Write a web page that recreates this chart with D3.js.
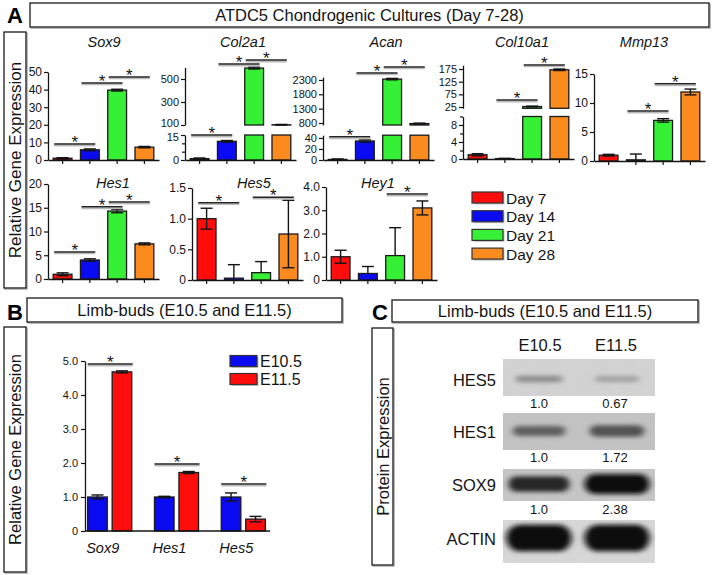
<!DOCTYPE html>
<html><head><meta charset="utf-8">
<script src="https://cdn.jsdelivr.net/npm/d3@7"></script>
<style>
body{margin:0;background:#fff;}
svg{display:block;font-family:"Liberation Sans",Arial,Helvetica,sans-serif;}
</style></head><body>
<svg id="fig" width="712" height="575"></svg>
<script>
// ---------------- DATA ----------------
const days = ["Day 7", "Day 14", "Day 21", "Day 28"];
const dayColors = ["#ff0d0d", "#0b0bf2", "#36f036", "#fb8a1f"];

const sox9Values = [1.0, 5.8, 39.7, 7.3];
const sox9Errors = [0.3, 0.5, 0.5, 0.4];
const sox9Ticks = [0, 10, 20, 30, 40, 50];
const sox9Sig = [[0, 1, 9.1], [1, 2, 43.8], [2, 3, 47.2]];

const col2a1Values = [0.8, 11.2, 595, 102];
const col2a1Errors = [0.4, 0.5, 8, 3];
const col2a1TicksLow = [0, 15];
const col2a1TicksHigh = [100, 300, 500];
const col2a1Sig = [[0, 1, 15], [1, 2, 630], [2, 3, 665]];

const acanValues = [1.0, 34.5, 2330, 780];
const acanErrors = [1.0, 2.0, 25, 15];
const acanTicksLow = [0, 20, 40];
const acanTicksHigh = [800, 1300, 1800, 2300];
const acanSig = [[0, 1, 42], [1, 2, 2545], [2, 3, 2755]];

const col10a1Values = [1.0, 0.1, 27, 172];
const col10a1Errors = [0.25, 0.05, 1.5, 3];
const col10a1TicksLow = [0, 4, 8];
const col10a1TicksHigh = [25, 75, 125, 175];
const col10a1Sig = [[1, 2, 52.5], [2, 3, 191]];

const mmp13Values = [1.0, 0.2, 7.0, 11.9];
const mmp13Errors = [0.15, 1.0, 0.3, 0.5];
const mmp13Ticks = [0, 5, 10, 15];
const mmp13Sig = [[1, 2, 8.6], [2, 3, 13.3]];

const hes1Values = [1.0, 4.0, 14.3, 7.4];
const hes1Errors = [0.3, 0.25, 0.35, 0.2];
const hes1Ticks = [0, 5, 10, 15, 20];
const hes1Sig = [[0, 1, 5.7], [1, 2, 15.2], [2, 3, 16.2]];

const hes5Values = [1.0, 0.03, 0.12, 0.75];
const hes5Errors = [0.17, 0.22, 0.18, 0.55];
const hes5Ticks = [0, 0.5, 1.0, 1.5];
const hes5Sig = [[0, 1, 1.26], [2, 3, 1.35]];

const hey1Values = [1.0, 0.28, 1.05, 3.1];
const hey1Errors = [0.28, 0.3, 1.2, 0.3];
const hey1Ticks = [0, 1, 2, 3, 4];
const hey1Sig = [[2, 3, 3.7]];

const limbGenes = ["Sox9", "Hes1", "Hes5"];
const stages = ["E10.5", "E11.5"];
const stageColors = ["#0b0bf2", "#ff0d0d"];
const limbE105 = [1.0, 1.0, 1.0];
const limbE105Err = [0.06, 0.02, 0.12];
const limbE115 = [4.68, 1.72, 0.35];
const limbE115Err = [0.03, 0.03, 0.08];
const limbSig = [4.91, 1.97, 1.38];
const limbTicks = [0, 1, 2, 3, 4, 5];

const proteins = ["HES5", "HES1", "SOX9", "ACTIN"];
const proteinQuant = [["1.0", "0.67"], ["1.0", "1.72"], ["1.0", "2.38"], null];
const bandDensity = [[0.32, 0.22], [0.55, 0.62], [0.85, 1.0], [1.0, 1.0]];

// ---------------- LAYOUT ----------------
const svg = d3.select("#fig");
const INK = "#141414";

const layoutA = [
  {name: "Sox9", values: sox9Values, errors: sox9Errors, sig: sox9Sig, ax: 48, base: 160, tx: 104, ty: 47, fs: 12,
   segs: [{dom: [0, 50], rng: [160, 72], ticks: sox9Ticks}]},
  {name: "Col2a1", values: col2a1Values, errors: col2a1Errors, sig: col2a1Sig, ax: 185, base: 160, tx: 243, ty: 47, fs: 11,
   segs: [{dom: [0, 15], rng: [160, 135], ticks: col2a1TicksLow, minor: [5, 10], edgeShift: 2},
          {dom: [100, 600], rng: [125, 67.5], ticks: col2a1TicksHigh, edgeShift: -2}]},
  {name: "Acan", values: acanValues, errors: acanErrors, sig: acanSig, ax: 323, base: 160, tx: 386, ty: 47, fs: 11,
   segs: [{dom: [0, 45], rng: [160, 135.2], ticks: acanTicksLow},
          {dom: [730, 2400], rng: [125, 77.1], ticks: acanTicksHigh}]},
  {name: "Col10a1", values: col10a1Values, errors: col10a1Errors, sig: col10a1Sig, ax: 463, base: 159, tx: 522, ty: 47, fs: 11,
   segs: [{dom: [0, 10], rng: [159, 116.5], ticks: col10a1TicksLow, minor: [2, 6, 10]},
          {dom: [20, 190], rng: [108.3, 65.2], ticks: col10a1TicksHigh}]},
  {name: "Mmp13", values: mmp13Values, errors: mmp13Errors, sig: mmp13Sig, ax: 594, base: 161, tx: 644, ty: 47, fs: 12,
   segs: [{dom: [0, 15], rng: [161, 74], ticks: mmp13Ticks}]},
  {name: "Hes1", values: hes1Values, errors: hes1Errors, sig: hes1Sig, ax: 48, base: 279, tx: 113, ty: 188, fs: 12,
   segs: [{dom: [0, 20], rng: [279, 184], ticks: hes1Ticks}]},
  {name: "Hes5", values: hes5Values, errors: hes5Errors, sig: hes5Sig, ax: 192, base: 280, tx: 254, ty: 188, fs: 12, dec: true,
   segs: [{dom: [0, 1.5], rng: [280, 188], ticks: hes5Ticks}]},
  {name: "Hey1", values: hey1Values, errors: hey1Errors, sig: hey1Sig, ax: 326, base: 280, tx: 378, ty: 188, fs: 12, dec: true,
   segs: [{dom: [0, 4], rng: [280, 187], ticks: hey1Ticks}]}
];

function tickFmt(dec) {
  return d => d === 0 ? "0" : (dec ? d3.format(".1f")(d) : d3.format("d")(d));
}
function styleAxis(a, fs) {
  a.attr("font-family", null).attr("font-size", null);
  a.selectAll("path.domain").attr("stroke", INK).attr("stroke-width", 1.3);
  a.selectAll(".tick line").attr("stroke", INK).attr("stroke-width", 1.2);
  a.selectAll(".tick text").attr("font-size", fs).attr("fill", INK);
}
function sigMark(g, x1, x2, y) {
  g.append("line").attr("x1", x1).attr("x2", x2).attr("y1", y + 1.6).attr("y2", y + 1.6)
    .attr("stroke", "#bbb").attr("stroke-width", 1.6);
  g.append("line").attr("x1", x1).attr("x2", x2).attr("y1", y).attr("y2", y)
    .attr("stroke", "#222").attr("stroke-width", 1.5);
  g.append("text").attr("x", (x1 + x2) / 2).attr("y", y + 4).attr("text-anchor", "middle")
    .attr("font-size", 17).attr("fill", INK).text("*");
}
function boxLabel(x, y, w, h, text, fs, vertical) {
  svg.append("rect").attr("x", x + 1.2).attr("y", y + 1.2).attr("width", w).attr("height", h)
    .attr("fill", "none").attr("stroke", "#aaa").attr("stroke-width", 1.2);
  svg.append("rect").attr("x", x).attr("y", y).attr("width", w).attr("height", h)
    .attr("fill", "#fff").attr("stroke", "#1a1a1a").attr("stroke-width", 1.3);
  const cx = x + w / 2, cy = y + h / 2;
  const t = svg.append("text").attr("font-size", fs).attr("fill", INK).attr("text-anchor", "middle")
    .attr("dominant-baseline", "central").text(text);
  if (vertical) t.attr("transform", `translate(${cx},${cy}) rotate(-90)`);
  else t.attr("x", cx).attr("y", cy);
}
function panelLetter(x, y, l) {
  svg.append("text").attr("x", x).attr("y", y).attr("text-anchor", "middle").attr("font-size", 22)
    .attr("font-weight", "bold").attr("fill", "#000").text(l);
}

function drawPanel(p) {
  const g = svg.append("g");
  const x = d3.scaleBand().domain(days).range([p.ax, p.ax + 111]).paddingInner(0.31).paddingOuter(0.19);
  const bw = x.bandwidth();
  const segs = p.segs.map(s => Object.assign({}, s, {y: d3.scaleLinear().domain(s.dom).range(s.rng)}));
  const yOf = v => segs.find((s, i) => i === segs.length - 1 || v <= s.dom[1]).y(v);

  segs.forEach((s, si) => {
    const last = si === segs.length - 1;
    const top = v => last ? v : Math.min(v, s.dom[1]);
    g.append("g").selectAll("rect")
      .data(p.values.map((v, i) => ({v, i})).filter(d => d.v > s.dom[0]))
      .join("rect")
      .attr("x", d => x(days[d.i])).attr("width", bw)
      .attr("y", d => s.y(top(d.v)))
      .attr("height", d => s.y(s.dom[0]) - s.y(top(d.v)))
      .attr("fill", d => dayColors[d.i]).attr("stroke", "#1a1a1a").attr("stroke-width", 1.3);
  });

  const eb = g.append("g").attr("stroke", INK).attr("stroke-width", 1.4);
  p.values.forEach((v, i) => {
    const e = p.errors[i], cx = x(days[i]) + bw / 2;
    const hi = v + e, lo = v - e;
    const yHi = yOf(hi), yLo = lo > 0 ? yOf(lo) : yOf(v);
    eb.append("line").attr("x1", cx).attr("x2", cx).attr("y1", yHi).attr("y2", yLo);
    eb.append("line").attr("x1", cx - 6).attr("x2", cx + 6).attr("y1", yHi).attr("y2", yHi);
    if (lo > 0) eb.append("line").attr("x1", cx - 6).attr("x2", cx + 6).attr("y1", yLo).attr("y2", yLo);
  });

  p.sig.forEach(([i, j, v]) => sigMark(g, x(days[i]) + 1, x(days[j]) + bw - 4, yOf(v)));

  segs.forEach((s, si) => {
    const a = g.append("g").attr("transform", `translate(${p.ax},0)`)
      .call(d3.axisLeft(s.y).tickValues(s.ticks).tickSize(4).tickSizeOuter(0).tickPadding(2).tickFormat(tickFmt(p.dec)));
    styleAxis(a, p.fs);
    if (s.edgeShift) {
      // nudge the label nearest the axis break so stacked labels do not collide
      const edge = si === 0 ? d3.max(s.ticks) : d3.min(s.ticks);
      a.selectAll(".tick").filter(d => d === edge).select("text").attr("y", s.edgeShift);
    }
    if (s.minor) {
      const m = g.append("g").attr("transform", `translate(${p.ax},0)`)
        .call(d3.axisLeft(s.y).tickValues(s.minor).tickSize(3).tickFormat(""));
      m.select(".domain").remove();
      styleAxis(m, p.fs);
    }
  });
  const xa = g.append("g").attr("transform", `translate(0,${p.base})`)
    .call(d3.axisBottom(x).tickSize(4).tickSizeOuter(0).tickFormat(""));
  styleAxis(xa, p.fs);

  g.append("text").attr("x", p.tx).attr("y", p.ty).attr("text-anchor", "middle")
    .attr("font-style", "italic").attr("font-size", 14.5).attr("fill", INK).text(p.name);
}

// ---------------- PANEL A ----------------
panelLetter(15, 23, "A");
boxLabel(30, 3, 679, 24, "ATDC5 Chondrogenic Cultures (Day 7-28)", 16.5, false);
boxLabel(4, 32, 22, 256, "Relative Gene Expression", 17, true);
layoutA.forEach(drawPanel);

const legA = svg.append("g");
days.forEach((d, i) => {
  const cy = 198 + i * 18.7;
  legA.append("rect").attr("x", 473.5).attr("y", cy - 4.5).attr("width", 31).attr("height", 11)
    .attr("fill", "#999").attr("opacity", 0.6);
  legA.append("rect").attr("x", 472).attr("y", cy - 6).attr("width", 31).attr("height", 11)
    .attr("fill", dayColors[i]).attr("stroke", "#333").attr("stroke-width", 1.2);
  legA.append("text").attr("x", 506).attr("y", cy).attr("dominant-baseline", "central")
    .attr("font-size", 15.5).attr("fill", INK).text(d);
});

// ---------------- PANEL B ----------------
panelLetter(15, 320, "B");
boxLabel(27, 298, 315, 24, "Limb-buds (E10.5 and E11.5)", 16.5, false);
boxLabel(4, 327, 22, 245, "Relative Gene Expression", 16.5, true);
{
  const g = svg.append("g");
  const bx = d3.scaleBand().domain(limbGenes).range([85, 268]).paddingInner(0.34).paddingOuter(0.04);
  const bxi = d3.scaleBand().domain(stages).range([0, bx.bandwidth()]).paddingInner(0.2);
  const by = d3.scaleLinear().domain([0, 5]).range([531, 361]);
  const series = [limbE105, limbE115], errs = [limbE105Err, limbE115Err];
  stages.forEach((st, si) => {
    g.append("g").selectAll("rect").data(limbGenes).join("rect")
      .attr("x", d => bx(d) + bxi(st)).attr("width", bxi.bandwidth())
      .attr("y", (d, i) => by(series[si][i])).attr("height", (d, i) => by(0) - by(series[si][i]))
      .attr("fill", stageColors[si]).attr("stroke", "#1a1a1a").attr("stroke-width", 1.3);
    const eb = g.append("g").attr("stroke", INK).attr("stroke-width", 1.4);
    limbGenes.forEach((gn, i) => {
      const cx = bx(gn) + bxi(st) + bxi.bandwidth() / 2;
      const v = series[si][i], e = errs[si][i];
      eb.append("line").attr("x1", cx).attr("x2", cx).attr("y1", by(v + e)).attr("y2", by(v - e));
      eb.append("line").attr("x1", cx - 6).attr("x2", cx + 6).attr("y1", by(v + e)).attr("y2", by(v + e));
      eb.append("line").attr("x1", cx - 6).attr("x2", cx + 6).attr("y1", by(v - e)).attr("y2", by(v - e));
    });
  });
  limbGenes.forEach((gn, i) => sigMark(g, bx(gn), bx(gn) + bx.bandwidth() + 1, by(limbSig[i])));
  const ya = g.append("g").attr("transform", "translate(85,0)")
    .call(d3.axisLeft(by).tickValues(limbTicks).tickSize(4).tickSizeOuter(0).tickPadding(3).tickFormat(tickFmt(true)));
  styleAxis(ya, 11);
  const xa = g.append("g").attr("transform", "translate(0,531)")
    .call(d3.axisBottom(bx).tickSize(0).tickSizeOuter(0).tickFormat(""));
  styleAxis(xa, 11);
  xa.select(".domain").attr("d", "M85,0H270");
  g.append("g").selectAll("text").data(limbGenes).join("text")
    .attr("x", d => bx(d) + bx.bandwidth() / 2 - 7).attr("y", 553).attr("text-anchor", "middle")
    .attr("font-style", "italic").attr("font-size", 14.5).attr("fill", INK).text(d => d);
  const leg = g.append("g");
  stages.forEach((st, i) => {
    const cy = 361 + i * 18;
    leg.append("rect").attr("x", 231.5).attr("y", cy - 4).attr("width", 27).attr("height", 11)
      .attr("fill", "#999").attr("opacity", 0.6);
    leg.append("rect").attr("x", 230).attr("y", cy - 5.5).attr("width", 27).attr("height", 11)
      .attr("fill", stageColors[i]).attr("stroke", "#333").attr("stroke-width", 1.2);
    leg.append("text").attr("x", 260).attr("y", cy).attr("dominant-baseline", "central")
      .attr("font-size", 16).attr("fill", INK).text(st);
  });
}

// ---------------- PANEL C ----------------
panelLetter(380, 320, "C");
boxLabel(392, 300, 306, 22, "Limb-buds (E10.5 and E11.5)", 16.5, false);
boxLabel(372, 328, 21, 237, "Protein Expression", 16.5, true);
{
  const defs = svg.append("defs");
  defs.append("filter").attr("id", "blur").attr("x", "-30%").attr("y", "-80%").attr("width", "160%").attr("height", "260%")
    .append("feGaussianBlur").attr("stdDeviation", "3.2 2.2");
  const noise = defs.append("filter").attr("id", "noise");
  noise.append("feTurbulence").attr("type", "fractalNoise").attr("baseFrequency", 0.08).attr("numOctaves", 2).attr("seed", 4);
  noise.append("feColorMatrix").attr("type", "matrix")
    .attr("values", "0 0 0 0 0.5  0 0 0 0 0.5  0 0 0 0 0.5  0 0 0 0.18 0");
  noise.append("feComposite").attr("in2", "SourceGraphic").attr("operator", "in");

  const g = svg.append("g");
  const lane = d3.scaleBand().domain(stages).range([503, 655]).paddingInner(0.1).paddingOuter(0.05);
  const rowTop = [359, 413, 469, 520], rowH = [37, 37, 32, 43];
  const bgCol = ["#d4d4d4", "#c3c3c3", "#c6c6c6", "#d9d9d9"];
  const labelY = [380, 432, 485, 539];
  const quantY = [403, 457, 509];
  stages.forEach(st => g.append("text").attr("x", lane(st) + lane.bandwidth() / 2 - 1).attr("y", 351)
    .attr("text-anchor", "middle").attr("font-size", 16.5).attr("fill", INK).text(st));
  proteins.forEach((pr, r) => {
    g.append("rect").attr("x", 503).attr("y", rowTop[r]).attr("width", 152).attr("height", rowH[r]).attr("fill", bgCol[r]);
    g.append("rect").attr("x", 503).attr("y", rowTop[r]).attr("width", 152).attr("height", rowH[r])
      .attr("fill", "#fff").attr("filter", "url(#noise)");
    g.append("text").attr("x", 496).attr("y", labelY[r]).attr("text-anchor", "end").attr("dominant-baseline", "central")
      .attr("font-size", 16.5).attr("fill", INK).text(pr);
    stages.forEach((st, li) => {
      const d = bandDensity[r][li];
      const w = lane.bandwidth() * (0.55 + 0.4 * d);
      const h = rowH[r] * (0.12 + 0.5 * d * d);
      const cx = lane(st) + lane.bandwidth() / 2 + (li === 0 ? -2 : 0);
      const shade = Math.round(200 - 190 * d);
      g.append("rect").attr("x", cx - w / 2).attr("y", labelY[r] - h / 2 - 1).attr("width", w).attr("height", h)
        .attr("rx", h / 2).attr("fill", `rgb(${shade},${shade},${shade})`).attr("filter", "url(#blur)");
    });
    if (proteinQuant[r]) {
      stages.forEach((st, li) => g.append("text").attr("x", lane(st) + lane.bandwidth() / 2 - 2).attr("y", quantY[r])
        .attr("text-anchor", "middle").attr("dominant-baseline", "central").attr("font-size", 13)
        .attr("fill", INK).text(proteinQuant[r][li]));
    }
  });
}
</script>
</body></html>
